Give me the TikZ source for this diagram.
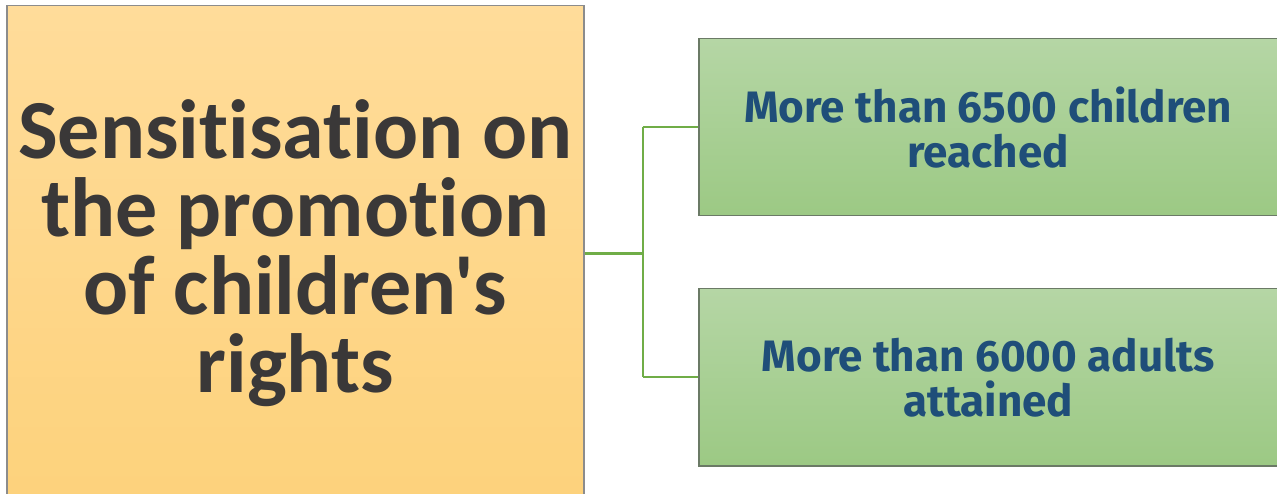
\documentclass[tikz,border=0pt]{standalone}
\usepackage{fontspec}
\usepackage{xcolor}
\usepackage{tikz}
\usetikzlibrary{positioning,calc}
\newfontfamily\headfont[Ligatures={NoCommon,NoRare}]{Carlito}
\newfontfamily\itemfont{Fira Sans}
\definecolor{oTop}{HTML}{FFDC9A}
\definecolor{oBot}{HTML}{FDD27C}
\definecolor{gTop}{HTML}{B5D6A5}
\definecolor{gBot}{HTML}{9CC984}
\definecolor{inkD}{HTML}{3A3838}
\definecolor{inkB}{HTML}{1F4E79}
\definecolor{rimL}{HTML}{8C8C8C}
\definecolor{rimG}{HTML}{6B7A66}
\definecolor{linkG}{HTML}{70AD47}
\tikzset{
  mainbox/.style={draw=rimL, line width=1.5pt, top color=oTop, bottom color=oBot,
                  anchor=north west, inner sep=0pt, align=center, text=inkD,
                  font=\headfont\bfseries\fontsize{84}{78}\selectfont},
  subbox/.style={draw=rimG, line width=1.5pt, top color=gTop, bottom color=gBot,
                 anchor=north west, inner sep=0pt, align=center, text=inkB,
                 minimum width=579pt, minimum height=177pt,
                 font=\itemfont\bfseries\fontsize{44}{45}\selectfont},
  link/.style={draw=linkG, line width=2pt},
}
\begin{document}
\begin{tikzpicture}[x=1pt, y=-1pt]
  \useasboundingbox (0,0) rectangle (1277,494);
  \node[mainbox, minimum width=577pt, minimum height=495pt] (sens) at (6,5)
    {Sensitisation on\\the promotion\\of children's\\rights};
  \node[subbox] (kids) at (698,38) {More than 6500 children\\reached};
  \node[subbox] (adults) at (698,288) {More than 6000 adults\\attained};
  % fork between the boxes
  \draw[link, line width=3pt] (sens.east) -- ++(58,0) coordinate (fork);
  \draw[link] (fork |- kids.west) -- (fork |- adults.west);
  \draw[link] (fork |- kids.west) -- (kids.west);
  \draw[link] (fork |- adults.west) -- (adults.west);
\end{tikzpicture}
\end{document}
